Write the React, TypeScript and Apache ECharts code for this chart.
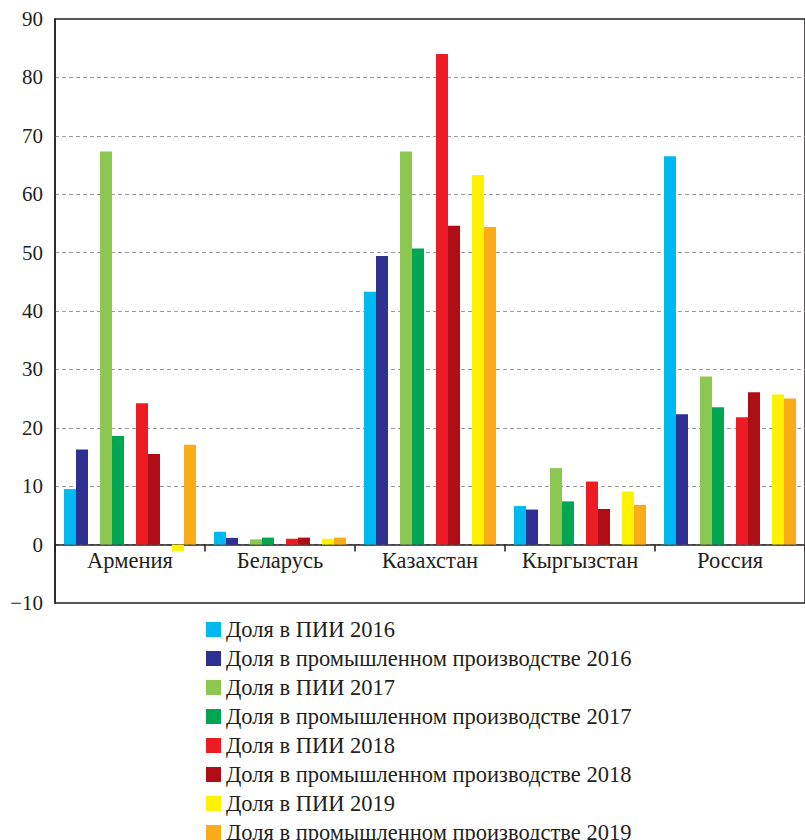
import React, { useEffect, useRef } from "react";
import * as echarts from "echarts";

const categories = ["Армения", "Беларусь", "Казахстан", "Кыргызстан", "Россия"];

const seriesNames = [
  "Доля в ПИИ 2016",
  "Доля в промышленном производстве 2016",
  "Доля в ПИИ 2017",
  "Доля в промышленном производстве 2017",
  "Доля в ПИИ 2018",
  "Доля в промышленном производстве 2018",
  "Доля в ПИИ 2019",
  "Доля в промышленном производстве 2019",
];

const fdi2016 = [9.5, 2.2, 43.3, 6.6, 66.5];
const ind2016 = [16.3, 1.15, 49.4, 6.0, 22.3];
const fdi2017 = [67.3, 0.9, 67.3, 13.1, 28.8];
const ind2017 = [18.6, 1.2, 50.7, 7.4, 23.5];
const fdi2018 = [24.2, 1.0, 84.0, 10.8, 21.8];
const ind2018 = [15.5, 1.2, 54.6, 6.1, 26.1];
const fdi2019 = [-1.1, 1.0, 63.3, 9.1, 25.7];
const ind2019 = [17.1, 1.2, 54.4, 6.8, 25.0];

const seriesValues = [fdi2016, ind2016, fdi2017, ind2017, fdi2018, ind2018, fdi2019, ind2019];

const colors = ["#00b9f1", "#2e3192", "#8bc751", "#00a651", "#ed1c24", "#af0e16", "#fff200", "#faab1a"];

const yMin = -10;
const yMax = 90;
const yStep = 10;

const FONT = "'Liberation Serif', 'DejaVu Serif', serif";
const TEXT = "#231f20";

const GRID_TOP = 19;
const GRID_BOTTOM = 237;
const CHART_H = 840;

export default function App() {
  const ref = useRef<HTMLDivElement>(null);

  useEffect(() => {
    if (!ref.current) return;
    const chart = echarts.init(ref.current, undefined, { renderer: "svg" });

    const series: any[] = [];
    seriesNames.forEach((name, i) => {
      series.push({
        name,
        type: "bar",
        data: seriesValues[i],
        barWidth: 12,
        barGap: 0,
        itemStyle: { color: colors[i] },
      });
      if (i % 2 === 1 && i < seriesNames.length - 1) {
        series.push({
          name: "_gap" + i,
          type: "bar",
          data: categories.map(() => null),
          barWidth: 12,
          barGap: 0,
          itemStyle: { color: "transparent" },
        });
      }
    });

    // offset the category axis so it sits on the value 0
    const plotH = CHART_H - GRID_TOP - GRID_BOTTOM;
    const zeroOffset = -((0 - yMin) / (yMax - yMin)) * plotH;

    chart.setOption({
      animation: false,
      backgroundColor: "#ffffff",
      textStyle: { fontFamily: FONT, color: TEXT },
      grid: {
        left: 55,
        right: -1,
        top: GRID_TOP,
        bottom: GRID_BOTTOM,
        show: true,
        borderColor: "#231f20",
        borderWidth: 1.5,
        backgroundColor: "transparent",
      },
      legend: {
        data: seriesNames,
        orient: "vertical",
        left: 206,
        top: 618,
        height: 300,
        padding: 0,
        itemWidth: 15,
        itemHeight: 15,
        itemGap: 6,
        icon: "rect",
        textStyle: { fontFamily: FONT, fontSize: 22.5, color: TEXT, lineHeight: 20 },
      },
      xAxis: {
        type: "category",
        data: categories,
        position: "bottom",
        offset: zeroOffset,
        axisLine: { onZero: false, lineStyle: { color: "#231f20", width: 1.5 } },
        axisTick: { show: true, length: 7, interval: 0, lineStyle: { color: "#231f20", width: 1.5 } },
        axisLabel: { fontFamily: FONT, fontSize: 22.5, color: TEXT, margin: 4, interval: 0 },
        splitLine: { show: false },
      },
      yAxis: {
        type: "value",
        min: yMin,
        max: yMax,
        interval: yStep,
        axisLine: { show: true, lineStyle: { color: "#231f20", width: 1.5 } },
        axisTick: { show: false },
        axisLabel: {
          fontFamily: FONT,
          fontSize: 21,
          color: TEXT,
          margin: 12,
          formatter: (v: number) => (v < 0 ? "\u2212" + Math.abs(v) : String(v)),
        },
        splitLine: {
          show: true,
          showMinLine: false,
          showMaxLine: false,
          lineStyle: { color: "#9a9a9a", type: [4, 3], width: 1.2 },
        },
      },
      series,
    });

    return () => chart.dispose();
  }, []);

  return (
    <div
      ref={ref}
      style={{ position: "absolute", left: 0, top: 0, width: 805, height: 840 }}
    />
  );
}
